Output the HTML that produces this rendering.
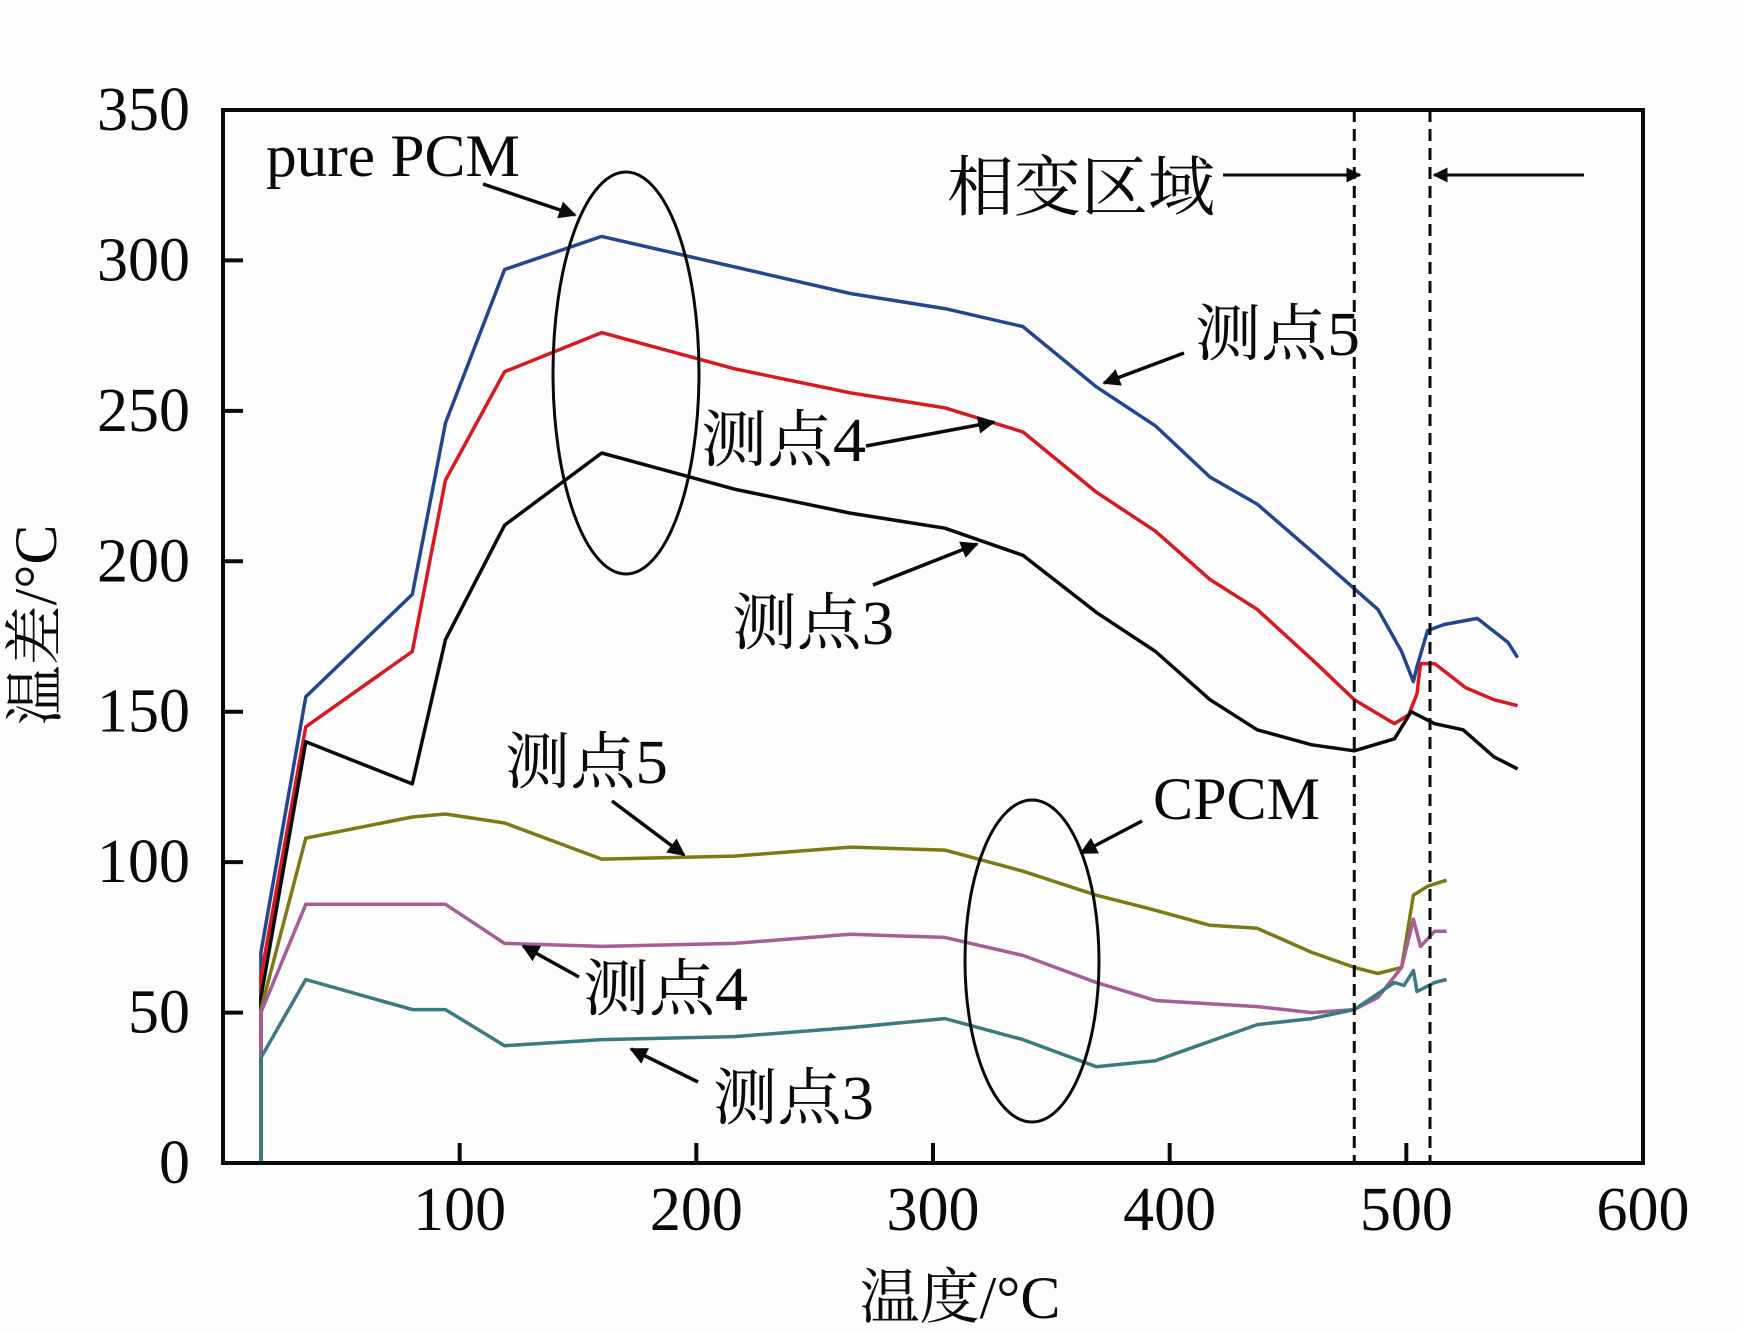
<!DOCTYPE html>
<html><head><meta charset="utf-8"><style>
html,body{margin:0;padding:0;background:#fdfdfd;}
svg{display:block;}
text{font-family:"Liberation Serif","Noto Serif CJK SC",serif;fill:#0a0a0a;}
</style></head><body>
<svg id="chart" width="1742" height="1332" viewBox="0 0 1742 1332" xmlns="http://www.w3.org/2000/svg">
<g id="plot"></g>
</svg>
<script>
const xTicks=[100,200,300,400,500,600];
const yTicks=[0,50,100,150,200,250,300,350];
const pure5X=[16,16,35,80,94,119,160,265,305,338,369,394,417,437,462,488,498,503,504.5,509,516,530,543,547];
const pure5Y=[0,70,155,189,246,297,308,289,284,278,258,245,228,219,202,184,170,160,165,177,179,181,173,168];
const pure4X=[16,16,35,80,94,119,160,216,265,305,338,369,394,417,437,462,478,495,501,504.5,506,512,525,537,547];
const pure4Y=[0,62,145,170,227,263,276,264,256,251,243,223,210,194,184,166,154,146,149,156,166,166,158,154,152];
const pure3X=[16,16,35,80,94,119,160,216,265,305,338,369,394,417,437,460,478,495,502,512,524,537,547];
const pure3Y=[0,55,140,126,174,212,236,224,216,211,202,183,170,154,144,139,137,141,150,146,144,135,131];
const c5X=[16,16,35,80,94,119,160,216,265,305,338,369,394,417,437,460,478,488,498,503,509,517];
const c5Y=[0,51,108,115,116,113,101,102,105,104,97,89,84,79,78,70,65,63,65,89,92,94];
const c4X=[16,16,35,80,94,119,160,216,265,305,338,369,394,437,460,478,488,498,503,506,512,517];
const c4Y=[0,50,86,86,86,73,72,73,76,75,69,60,54,52,50,51,55,65,81,72,77,77];
const c3X=[16,16,35,80,94,119,160,216,265,305,338,369,394,437,460,478,495,499,503,504.5,512,517];
const c3Y=[0,35,61,51,51,39,41,42,45,48,41,32,34,46,48,51,60,59,64,57,60,61];
const phaseX=[478,510];

const L=223,R=1643,T=110,B=1163;
const xs=v=>L+(v/600)*(R-L);
const ys=v=>B-(v/350)*(B-T);
const NS="http://www.w3.org/2000/svg";
const g=document.getElementById('plot');
function mk(tag,attrs,parent){const e=document.createElementNS(NS,tag);for(const k in attrs)e.setAttribute(k,attrs[k]);(parent||g).appendChild(e);return e;}

const series=[[pure5X,pure5Y,'#23478f','pure-pcm-point5-line'],[pure4X,pure4Y,'#d81920','pure-pcm-point4-line'],[pure3X,pure3Y,'#0a0a0a','pure-pcm-point3-line'],
[c5X,c5Y,'#7b7a17','cpcm-point5-line'],[c4X,c4Y,'#a55e96','cpcm-point4-line'],[c3X,c3Y,'#3a7a80','cpcm-point3-line']];
series.forEach(s=>{
 const d=s[0].map((x,i)=>(i?'L':'M')+xs(x).toFixed(1)+','+ys(s[1][i]).toFixed(1)).join(' ');
 const p=mk('path',{d:d,fill:'none',stroke:s[2],'stroke-width':3.5,'stroke-linejoin':'round'});
 
 
});
phaseX.forEach((v,i)=>{
 const l=mk('line',{x1:xs(v),x2:xs(v),y1:T,y2:B,stroke:'#0a0a0a','stroke-width':3,'stroke-dasharray':'12,7'});
 
 
});
const fr=mk('rect',{x:L,y:T,width:R-L,height:B-T,fill:'none',stroke:'#0a0a0a','stroke-width':4});


xTicks.forEach(v=>{
 if(v<600){const t=mk('line',{x1:xs(v),x2:xs(v),y1:B,y2:B-20,stroke:'#0a0a0a','stroke-width':4});
 
 }
 const tx=mk('text',{x:xs(v),y:B+67,'font-size':62,'text-anchor':'middle'});tx.textContent=v;
 
 
});
yTicks.forEach(v=>{
 if(v>0&&v<350){const t=mk('line',{x1:L,x2:L+20,y1:ys(v),y2:ys(v),stroke:'#0a0a0a','stroke-width':4});
 
 }
 const tx=mk('text',{x:190,y:ys(v)+20,'font-size':62,'text-anchor':'end'});tx.textContent=v;
 
 
});
</script>
<svg style="position:absolute;left:0;top:0" width="1742" height="1332">
<defs><marker id="ah2" viewBox="0 0 10 10" refX="9" refY="5" markerWidth="9" markerHeight="5" orient="auto" markerUnits="strokeWidth"><path d="M0,0 L10,5 L0,10 z" fill="#0a0a0a"/></marker></defs>
<text x="960" y="1318" font-size="60" text-anchor="middle">温度/°C</text>
<text transform="translate(56,625) rotate(-90)" font-size="60" text-anchor="middle">温差/°C</text>
<text x="266" y="176" font-size="60" textLength="254" lengthAdjust="spacingAndGlyphs">pure PCM</text>
<line x1="483" y1="184" x2="575" y2="215" stroke="#0a0a0a" stroke-width="3.5" marker-end="url(#ah2)"/>
<ellipse cx="626" cy="373" rx="73" ry="201" fill="none" stroke="#0a0a0a" stroke-width="3"/>
<text x="947" y="210" font-size="66" textLength="268" lengthAdjust="spacingAndGlyphs">相变区域</text>
<line x1="1223" y1="175" x2="1360" y2="175" stroke="#0a0a0a" stroke-width="3" marker-end="url(#ah2)"/>
<line x1="1584" y1="175" x2="1434" y2="175" stroke="#0a0a0a" stroke-width="3" marker-end="url(#ah2)"/>
<text x="1195" y="355" font-size="62" textLength="165" lengthAdjust="spacingAndGlyphs">测点5</text>
<line x1="1184" y1="353" x2="1104" y2="383" stroke="#0a0a0a" stroke-width="3.5" marker-end="url(#ah2)"/>
<text x="701" y="461" font-size="62" textLength="165" lengthAdjust="spacingAndGlyphs">测点4</text>
<line x1="866" y1="446" x2="994" y2="422" stroke="#0a0a0a" stroke-width="3.5" marker-end="url(#ah2)"/>
<text x="732" y="644" font-size="62" textLength="162" lengthAdjust="spacingAndGlyphs">测点3</text>
<line x1="873" y1="585" x2="977" y2="544" stroke="#0a0a0a" stroke-width="3.5" marker-end="url(#ah2)"/>
<text x="505" y="783" font-size="62" textLength="163" lengthAdjust="spacingAndGlyphs">测点5</text>
<line x1="612" y1="801" x2="684" y2="855" stroke="#0a0a0a" stroke-width="3.5" marker-end="url(#ah2)"/>
<text x="1153" y="819" font-size="60" textLength="167" lengthAdjust="spacingAndGlyphs">CPCM</text>
<line x1="1142" y1="821" x2="1081" y2="853" stroke="#0a0a0a" stroke-width="3.5" marker-end="url(#ah2)"/>
<ellipse cx="1032" cy="961" rx="67" ry="161" fill="none" stroke="#0a0a0a" stroke-width="3"/>
<text x="583" y="1010" font-size="62" textLength="165" lengthAdjust="spacingAndGlyphs">测点4</text>
<line x1="579" y1="977" x2="523" y2="946" stroke="#0a0a0a" stroke-width="3.5" marker-end="url(#ah2)"/>
<text x="713" y="1119" font-size="62" textLength="161" lengthAdjust="spacingAndGlyphs">测点3</text>
<line x1="698" y1="1082" x2="631" y2="1049" stroke="#0a0a0a" stroke-width="3.5" marker-end="url(#ah2)"/>
</svg>
</body></html>
